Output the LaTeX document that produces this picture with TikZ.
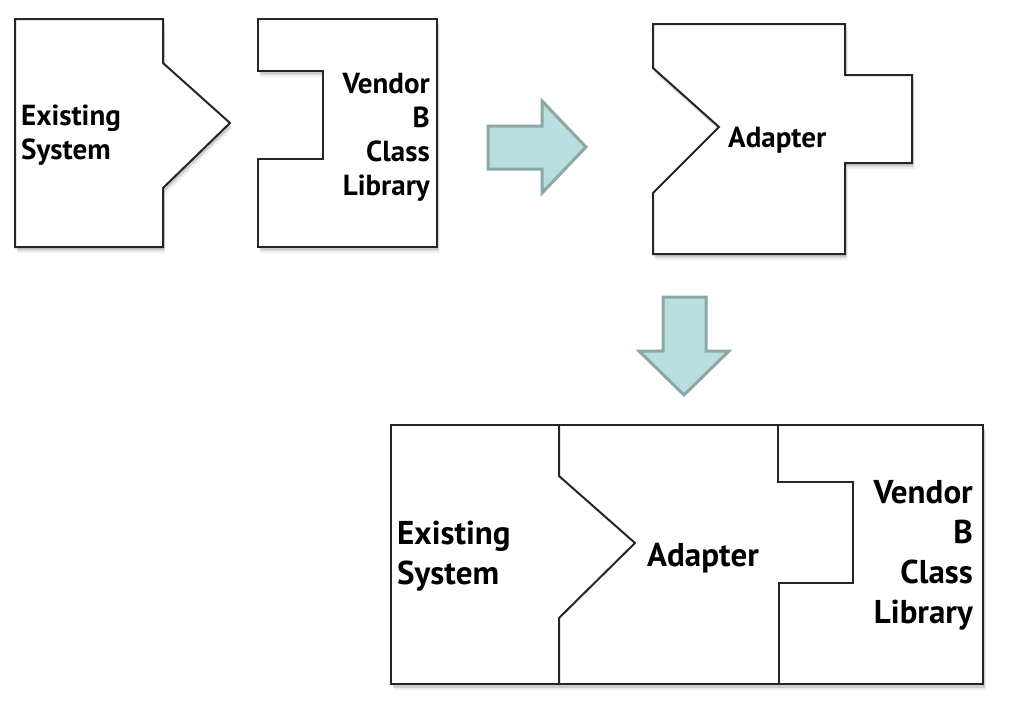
\documentclass[tikz,border=0pt]{standalone}
\usepackage{fontspec}
\setmainfont{PT Sans}
\usetikzlibrary{shadows}
\definecolor{arrowfill}{HTML}{B9DEE0}
\definecolor{arrowline}{HTML}{8AA8A8}
\definecolor{edge}{HTML}{262626}
\begin{document}
\begin{tikzpicture}[x=1pt,y=-1pt,
  piece/.style={draw=edge, line width=2pt, fill=white, line join=miter,
    drop shadow={shadow xshift=2.5pt, shadow yshift=-6pt, opacity=0.12},
    drop shadow={shadow xshift=1.5pt, shadow yshift=-3.5pt, opacity=0.3}},
  divider/.style={draw=edge, line width=2pt, line join=miter},
  bigarrow/.style={draw=arrowline, line width=3pt, fill=arrowfill, line join=miter},
  lbl/.style={font=\bfseries\fontsize{29}{34}\selectfont, inner sep=0pt},
  lblbig/.style={font=\bfseries\fontsize{33}{40}\selectfont, inner sep=0pt}]
\useasboundingbox[fill=white] (0,0) rectangle (1021,720);
% top row pieces
\path[piece] (15,19) -- (163,19) -- (163,63) -- (230,123) -- (163,188) -- (163,247) -- (15,247) -- cycle;
\path[piece] (258,19) -- (437,19) -- (437,247) -- (258,247) -- (258,159) -- (323,159) -- (323,71) -- (258,71) -- cycle;
\path[piece] (653,24) -- (845,24) -- (845,75) -- (912,75) -- (912,163) -- (845,163) -- (845,254) -- (653,254) -- (653,193) -- (719,127) -- (653,68) -- cycle;
% arrows
\path[bigarrow] (488,126) -- (542,126) -- (542,101) -- (586,147) -- (542,193) -- (542,169) -- (488,169) -- cycle;
\path[bigarrow] (663,297) -- (706,297) -- (706,351) -- (729,351) -- (684,395) -- (639,351) -- (663,351) -- cycle;
% combined
\path[piece] (391,425) rectangle (983,684);
\draw[divider] (559,425) -- (559,476) -- (635,543) -- (559,618) -- (559,684);
\draw[divider] (778,425) -- (778,482) -- (853,482) -- (853,583) -- (779,583) -- (779,684);
% labels (base anchor = baseline of the last line)
\node[lbl, align=left, anchor=base west] (es1) at (21,159) {Existing\\System};
\node[lbl, align=right, anchor=base east] (vb1) at (430,195) {Vendor\\B\\Class\\Library};
\node[lbl, anchor=base west] (ad1) at (728,147) {Adapter};
\node[lblbig, align=left, anchor=base west] (es2) at (397,584) {Existing\\System};
\node[lblbig, anchor=base west] (ad2) at (647,566) {Adapter};
\node[lblbig, align=right, anchor=base east] (vb2) at (973,623) {Vendor\\B\\Class\\Library};
\end{tikzpicture}
\end{document}
